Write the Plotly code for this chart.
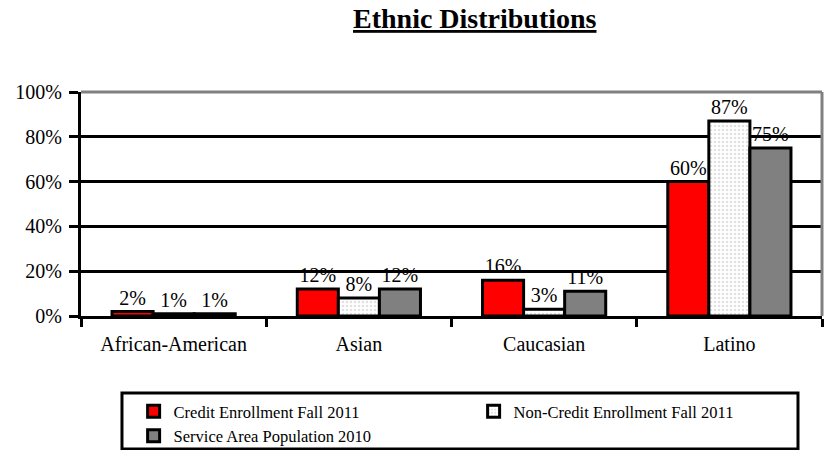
import plotly.graph_objects as go

# Ethnic distribution shares (fractions) by group
categories = ["African-American", "Asian", "Caucasian", "Latino"]
credit_2011 = [0.02, 0.12, 0.16, 0.60]
noncredit_2011 = [0.01, 0.08, 0.03, 0.87]
service_area_2010 = [0.01, 0.12, 0.11, 0.75]

series_names = [
    "Credit Enrollment Fall 2011",
    "Non-Credit Enrollment Fall 2011",
    "Service Area Population 2010",
]

SERIF = "Liberation Serif"

fig = go.Figure()

fig.add_trace(go.Bar(
    name=series_names[0], x=categories, y=credit_2011,
    marker=dict(color="#FF0000", line=dict(color="black", width=3)),
))
fig.add_trace(go.Bar(
    name=series_names[1], x=categories, y=noncredit_2011,
    marker=dict(
        color="white",
        line=dict(color="black", width=3),
        pattern=dict(shape=".", fgcolor="#c4c4c4", bgcolor="white",
                     size=4, solidity=0.35),
    ),
))
fig.add_trace(go.Bar(
    name=series_names[2], x=categories, y=service_area_2010,
    marker=dict(color="#808080", line=dict(color="black", width=3)),
))

fig.update_traces(
    texttemplate="%{y:.0%}",
    textposition="outside",
    textfont=dict(family=SERIF, size=20, color="black"),
    constraintext="none",
    cliponaxis=False,
    hoverinfo="skip",
)

fig.update_layout(
    width=830, height=450,
    margin=dict(l=81, r=8, t=92, b=134, autoexpand=False),
    paper_bgcolor="white", plot_bgcolor="white",
    barmode="group", bargap=0.335, bargroupgap=0,
    font=dict(family=SERIF, color="black"),
    showlegend=True,
    legend=dict(
        orientation="h",
        x=0.071, xanchor="left",
        y=-0.348, yanchor="top",
        entrywidth=295,
        font=dict(family=SERIF, size=16.5, color="black"),
        traceorder="normal",
        itemclick=False, itemdoubleclick=False,
        bgcolor="rgba(0,0,0,0)",
    ),
    annotations=[dict(
        text="<u><b>Ethnic Distributions</b></u>",
        xref="paper", yref="paper", x=0.532, y=1.326,
        xanchor="center", yanchor="middle", showarrow=False,
        font=dict(family=SERIF, size=28, color="black"),
    )],
    shapes=[
        # grey frame on top and right of the plot area
        dict(type="line", xref="paper", yref="paper", x0=0, x1=1, y0=1, y1=1,
             line=dict(color="#808080", width=3), layer="above"),
        dict(type="line", xref="paper", yref="paper", x0=1, x1=1, y0=0, y1=1,
             line=dict(color="#808080", width=3), layer="above"),
        # legend box
        dict(type="rect", xref="paper", yref="paper",
             x0=0.0553, x1=0.9676, y0=-0.344, y1=-0.594,
             line=dict(color="black", width=3), layer="above"),
    ],
)

fig.update_xaxes(
    showline=True, linecolor="black", linewidth=3,
    ticks="outside", tickson="boundaries", ticklen=8, tickwidth=3,
    tickcolor="black", ticklabelstandoff=8,
    tickfont=dict(family=SERIF, size=20, color="black"),
    showgrid=False, zeroline=False,
)
fig.update_yaxes(
    range=[0, 1], dtick=0.2, tickformat=".0%",
    showline=True, linecolor="black", linewidth=3,
    ticks="outside", ticklen=9, tickwidth=3, tickcolor="black",
    ticklabelstandoff=3,
    tickfont=dict(family=SERIF, size=20, color="black"),
    showgrid=True, gridcolor="black", gridwidth=3,
    zeroline=False,
)

fig.write_html("out.html")
